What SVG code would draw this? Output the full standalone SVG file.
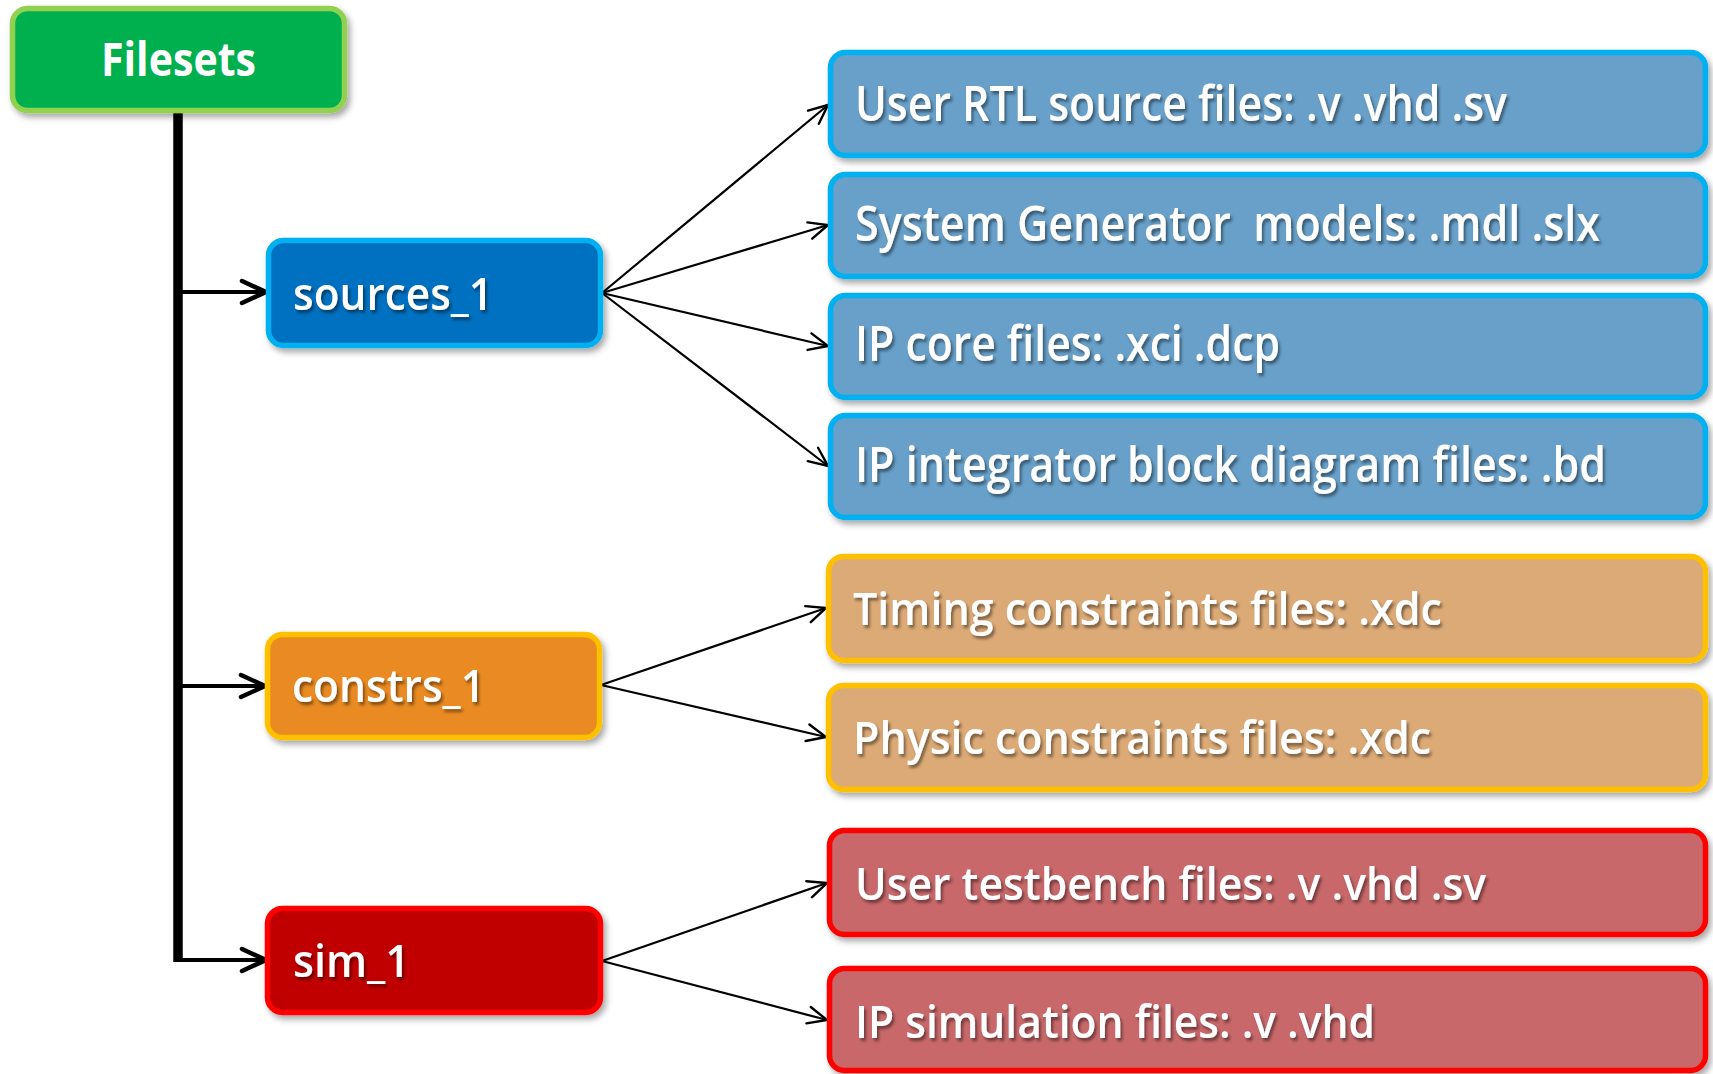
<svg xmlns="http://www.w3.org/2000/svg" width="1713" height="1074" viewBox="0 0 1713 1074">
<style>
  .box{stroke-width:5.5}
  .lbl{font-family:"Open Sans","Noto Sans","Liberation Sans",sans-serif;font-weight:600;fill:#fff;font-size:46px;white-space:pre}
  .big{font-size:48px}
  .title{font-family:"Open Sans","Noto Sans","Liberation Sans",sans-serif;font-weight:700;fill:#fff;font-size:46px}
  .thick{stroke:#000;stroke-width:4;fill:none}
  .trunk{stroke:#000;stroke-width:9.5;fill:none}
  .thin{stroke:#000;stroke-width:2.2;fill:none}
  .green{fill:#00B050;stroke:#92D050}
  .dblue{fill:#0070C0;stroke:#00B0F0}
  .orange{fill:#EA8A20;stroke:#FFC000}
  .dred{fill:#C00000;stroke:#FF0000}
  .lblue{fill:#67A0C9;stroke:#00B0F0}
  .lorange{fill:#DCAA76;stroke:#FFC000}
  .lred{fill:#C8686A;stroke:#FF0000}
</style>
<defs>
  <filter id="sh" x="-5%" y="-10%" width="115%" height="130%">
    <feDropShadow dx="3" dy="4" stdDeviation="3" flood-color="#000" flood-opacity="0.35"/>
  </filter>
  <filter id="tsh" x="-5%" y="-20%" width="115%" height="150%">
    <feDropShadow dx="2" dy="3" stdDeviation="1.5" flood-color="#000" flood-opacity="0.45"/>
  </filter>
  <marker id="ahThick" markerUnits="userSpaceOnUse" viewBox="-30 -16 34 32" refX="0" refY="0" markerWidth="34" markerHeight="32" orient="auto" overflow="visible">
    <path d="M-24,-11 L0,0 L-24,11" stroke="#000" stroke-width="4.5" fill="none" stroke-linecap="round" stroke-linejoin="miter"/>
  </marker>
  <marker id="ahThin" markerUnits="userSpaceOnUse" viewBox="-24 -12 28 24" refX="0" refY="0" markerWidth="28" markerHeight="24" orient="auto" overflow="visible">
    <path d="M-19,-8.5 L0,0 L-19,8.5" stroke="#000" stroke-width="2.4" fill="none" stroke-linecap="round"/>
  </marker>
</defs>
<rect width="1713" height="1074" fill="#fff"/>

<g id="connectors">
  <path class="trunk" d="M178,110 V962"/>
  <path class="thick" d="M178,292 H266" marker-end="url(#ahThick)"/>
  <path class="thick" d="M178,686 H265" marker-end="url(#ahThick)"/>
  <path class="thick" d="M174,960 H266" marker-end="url(#ahThick)"/>
  <path class="thin" d="M602,293 L828,105" marker-end="url(#ahThin)"/>
  <path class="thin" d="M602,293 L828,225" marker-end="url(#ahThin)"/>
  <path class="thin" d="M602,293 L828,346" marker-end="url(#ahThin)"/>
  <path class="thin" d="M602,293 L828,466" marker-end="url(#ahThin)"/>
  <path class="thin" d="M601,685 L826,608" marker-end="url(#ahThin)"/>
  <path class="thin" d="M601,685 L826,737" marker-end="url(#ahThin)"/>
  <path class="thin" d="M602,961 L827,883" marker-end="url(#ahThin)"/>
  <path class="thin" d="M602,961 L827,1020" marker-end="url(#ahThin)"/>
</g>

<g id="filesets">
  <rect class="box green" x="12.5" y="8.5" width="332" height="102" rx="15" filter="url(#sh)"/>
  <text class="title" x="178.5" y="76" text-anchor="middle" textLength="155" lengthAdjust="spacingAndGlyphs">Filesets</text>
</g>

<g id="sources_1">
  <rect class="box dblue" x="268.5" y="240.5" width="332" height="105" rx="15" filter="url(#sh)"/>
  <text class="lbl" x="293" y="310" textLength="200" lengthAdjust="spacingAndGlyphs" filter="url(#tsh)">sources_1</text>
</g>

<g id="constrs_1">
  <rect class="box orange" x="267.5" y="634.5" width="332" height="103" rx="15" filter="url(#sh)"/>
  <text class="lbl" x="292" y="702" textLength="193" lengthAdjust="spacingAndGlyphs" filter="url(#tsh)">constrs_1</text>
</g>

<g id="sim_1">
  <rect class="box dred" x="267.5" y="908.5" width="333" height="104" rx="15" filter="url(#sh)"/>
  <text class="lbl" x="293" y="977" textLength="117" lengthAdjust="spacingAndGlyphs" filter="url(#tsh)">sim_1</text>
</g>

<g id="src_rtl">
  <rect class="box lblue" x="830.5" y="52.5" width="875" height="103" rx="15" filter="url(#sh)"/>
  <text class="lbl big" x="855" y="121" textLength="652" lengthAdjust="spacingAndGlyphs" filter="url(#tsh)">User RTL source files: .v .vhd .sv</text>
</g>

<g id="src_sysgen">
  <rect class="box lblue" x="830.5" y="174.5" width="875" height="102" rx="15" filter="url(#sh)"/>
  <text class="lbl big" x="855" y="241" textLength="745" lengthAdjust="spacingAndGlyphs" filter="url(#tsh)">System Generator  models: .mdl .slx</text>
</g>

<g id="src_ipcore">
  <rect class="box lblue" x="830.5" y="295.5" width="875" height="102" rx="15" filter="url(#sh)"/>
  <text class="lbl big" x="855" y="361" textLength="425" lengthAdjust="spacingAndGlyphs" filter="url(#tsh)">IP core files: .xci .dcp</text>
</g>

<g id="src_ipi">
  <rect class="box lblue" x="830.5" y="415.5" width="875" height="102" rx="15" filter="url(#sh)"/>
  <text class="lbl big" x="855" y="482" textLength="751" lengthAdjust="spacingAndGlyphs" filter="url(#tsh)">IP integrator block diagram files: .bd</text>
</g>

<g id="con_timing">
  <rect class="box lorange" x="828.5" y="556.5" width="877" height="104" rx="15" filter="url(#sh)"/>
  <text class="lbl" x="853" y="625" textLength="589" lengthAdjust="spacingAndGlyphs" filter="url(#tsh)">Timing constraints files: .xdc</text>
</g>

<g id="con_physic">
  <rect class="box lorange" x="828.5" y="685.5" width="877" height="104" rx="15" filter="url(#sh)"/>
  <text class="lbl" x="853" y="754" textLength="578" lengthAdjust="spacingAndGlyphs" filter="url(#tsh)">Physic constraints files: .xdc</text>
</g>

<g id="sim_tb">
  <rect class="box lred" x="829.5" y="830.5" width="876" height="104" rx="15" filter="url(#sh)"/>
  <text class="lbl" x="855" y="900" textLength="631" lengthAdjust="spacingAndGlyphs" filter="url(#tsh)">User testbench files: .v .vhd .sv</text>
</g>

<g id="sim_ip">
  <rect class="box lred" x="829.5" y="968.5" width="876" height="102" rx="15" filter="url(#sh)"/>
  <text class="lbl" x="855" y="1038" textLength="520" lengthAdjust="spacingAndGlyphs" filter="url(#tsh)">IP simulation files: .v .vhd</text>
</g>
</svg>
